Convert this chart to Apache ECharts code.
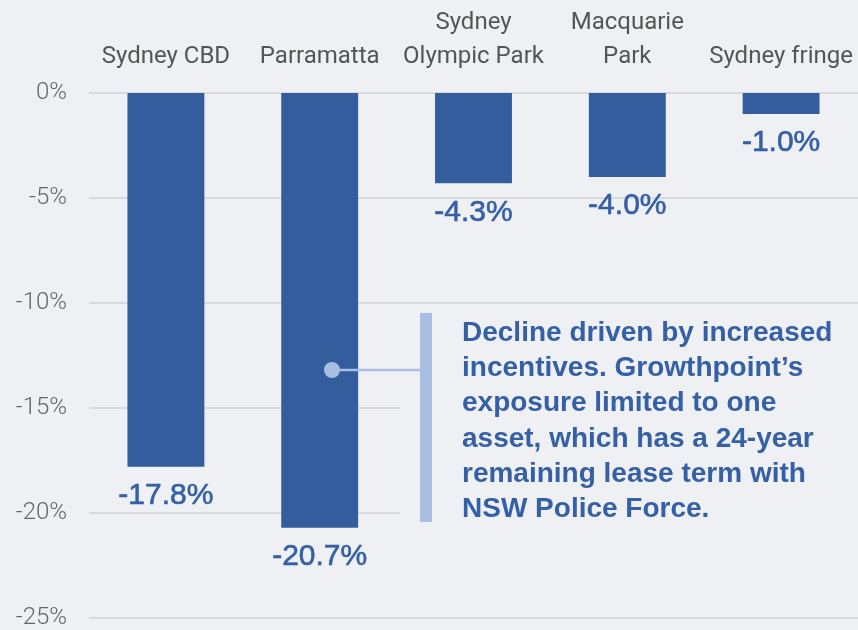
<!DOCTYPE html>
<html>
<head>
<meta charset="utf-8">
<script src="https://cdn.jsdelivr.net/npm/echarts@6/dist/echarts.min.js"></script>
<style>
  html, body { margin: 0; padding: 0; background: #eff0f4; }
  #chart { width: 858px; height: 630px; }
</style>
</head>
<body>
<div id="chart"></div>
<script>
// categories and values
const regions = ['Sydney CBD', 'Parramatta', 'Sydney\nOlympic Park', 'Macquarie\nPark', 'Sydney fringe']
const valueChange = [-17.8, -20.7, -4.3, -4.0, -1.0]
const noteLines = [
  'Decline driven by increased',
  'incentives. Growthpoint\u2019s',
  'exposure limited to one',
  'asset, which has a 24-year',
  'remaining lease term with',
  'NSW Police Force.'
]

const barBlue = '#345d9d'
const textBlue = '#3560a6'
const noteBlue = '#a8bfe3'

const myChart = echarts.init(document.getElementById('chart'))

// annotation pieces (box hides the gridlines behind the note)
const graphics = [
  { type: 'rect', shape: { x: 400, y: 307, width: 458, height: 222 }, style: { fill: '#eff0f4' }, z: 50 },
  { type: 'rect', shape: { x: 420, y: 313, width: 12, height: 209 }, style: { fill: noteBlue }, z: 51 },
  { type: 'line', shape: { x1: 332, y1: 370, x2: 420, y2: 370 }, style: { stroke: noteBlue, lineWidth: 2.5 }, z: 51 },
  { type: 'circle', shape: { cx: 332, cy: 370, r: 8 }, style: { fill: noteBlue }, z: 52 }
]
noteLines.forEach(function (line, i) {
  graphics.push({
    type: 'text', left: 462, top: 319 + i * 35.3, z: 52,
    style: { text: line, fill: textBlue, font: 'bold 28px "Liberation Sans", Arial, sans-serif' }
  })
})

const option = {
  backgroundColor: '#eff0f4',
  animation: false,
  grid: { left: 89, right: 0, top: 93, bottom: 10 },
  xAxis: {
    type: 'category',
    position: 'top',
    data: regions,
    axisLine: { show: false },
    axisTick: { show: false },
    axisLabel: {
      color: '#555',
      fontSize: 24,
      lineHeight: 34,
      margin: 19,
      fontFamily: 'Roboto, sans-serif',
      interval: 0
    }
  },
  yAxis: {
    type: 'value',
    min: -25,
    max: 0,
    interval: 5,
    axisLine: { show: false },
    axisTick: { show: false },
    splitLine: { lineStyle: { color: '#d9dadd', width: 2 } },
    axisLabel: {
      formatter: '{value}%',
      color: '#666',
      fontSize: 24,
      fontWeight: 300,
      fontFamily: 'Roboto, sans-serif',
      margin: 22
    }
  },
  series: [
    {
      type: 'bar',
      data: valueChange,
      barWidth: '50%',
      itemStyle: { color: barBlue },
      label: {
        show: true,
        position: 'bottom',
        distance: 14,
        color: textBlue,
        fontSize: 30,
        textBorderColor: textBlue,
        textBorderWidth: 0.6,
        fontFamily: '"Liberation Sans", Arial, sans-serif',
        formatter: function (p) { return p.value.toFixed(1) + '%' }
      }
    }
  ],
  graphic: graphics
}

myChart.setOption(option)
</script>
</body>
</html>
